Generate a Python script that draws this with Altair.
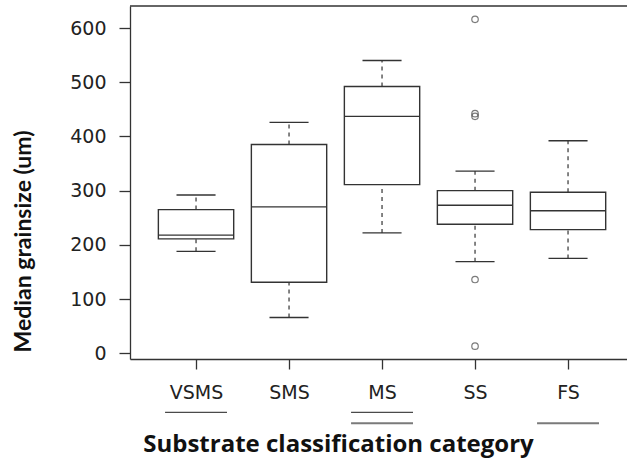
import json
import altair as alt
import pandas as pd

# ---- data ----
categories = ["VSMS", "SMS", "MS", "SS", "FS"]
positions = [1, 2, 3, 4, 5]
lower_whisker = [188, 66, 222, 169, 175]
q1 = [211, 131, 311, 238, 228]
median = [218, 270, 437, 273, 263]
q3 = [265, 385, 492, 300, 297]
upper_whisker = [292, 426, 540, 336, 392]

outlier_cat = ["SS", "SS", "SS", "SS", "SS"]
outlier_val = [616, 442, 437, 136, 13]

underline_cat = ["VSMS", "MS", "MS", "FS"]
underline_row = [1, 1, 2, 2]

y_ticks = [0, 100, 200, 300, 400, 500, 600]

pos_of = dict(zip(categories, positions))

box_df = pd.DataFrame({
    "cat": categories, "pos": positions, "lo": lower_whisker, "q1": q1,
    "med": median, "q3": q3, "hi": upper_whisker,
})
out_df = pd.DataFrame({"cat": outlier_cat, "pos": [pos_of[c] for c in outlier_cat],
                       "val": outlier_val})
ul_df = pd.DataFrame({"cat": underline_cat, "pos": [pos_of[c] for c in underline_cat],
                      "row": underline_row})

STROKE = "#333333"
W, H = 497, 353
X0 = 0.29
X1 = X0 + W / 93.0
x_scale = alt.Scale(domain=[X0, X1], nice=False, zero=False)
y_scale = alt.Scale(domain=[-10.6, 640.6], nice=False, zero=False)

label_expr = json.dumps(categories) + "[datum.value - 1]"

x_axis = alt.Axis(
    values=positions, labelExpr=label_expr, grid=False, tickSize=10,
    tickColor=STROKE, domainColor=STROKE, domainWidth=1.3, tickWidth=1.3,
    labelFont="DejaVu Sans", labelFontSize=19, labelColor="#222222",
    labelPadding=14, labelAngle=0,
    title="Substrate classification category", titleFont="Open Sans",
    titleFontSize=24, titleFontWeight="bold", titleColor="#111111",
    titleX=208, titleY=92, titleAlign="center", titleBaseline="alphabetic",
    titleAnchor="start",
)
y_axis = alt.Axis(
    values=y_ticks, grid=False, tickSize=11, tickColor=STROKE,
    domainColor=STROKE, domainWidth=1.3, tickWidth=1.3,
    labelFont="DejaVu Sans", labelFontSize=19, labelColor="#222222",
    labelPadding=13,
    title="Median grainsize (um)", titleFont="Lato", titleFontSize=23,
    titleFontWeight="bold", titleColor="#111111", titleAngle=-90,
    titleX=-100, titleY=235, titleAlign="center", titleBaseline="alphabetic",
    titleAnchor="start",
)


def X(field):
    return alt.X(field, type="quantitative", scale=x_scale, axis=x_axis)


def Y(field):
    return alt.Y(field, type="quantitative", scale=y_scale, axis=y_axis)


base = alt.Chart(box_df).transform_calculate(
    xl="datum.pos - 0.405", xr="datum.pos + 0.405",
    cl="datum.pos - 0.21", cr="datum.pos + 0.21",
)

boxes = base.mark_rect(fill="white", stroke=STROKE, strokeWidth=1.4).encode(
    x=X("xl"), x2="xr", y=Y("q1"), y2="q3")
medians = base.mark_rule(color=STROKE, strokeWidth=1.4).encode(
    x=X("xl"), x2="xr", y=Y("med"))
wh_up = base.mark_rule(color=STROKE, strokeWidth=1.2, strokeDash=[4, 4]).encode(
    x=X("pos"), y=Y("q3"), y2="hi")
wh_lo = base.mark_rule(color=STROKE, strokeWidth=1.2, strokeDash=[4, 4]).encode(
    x=X("pos"), y=Y("lo"), y2="q1")
cap_up = base.mark_rule(color=STROKE, strokeWidth=1.4).encode(
    x=X("cl"), x2="cr", y=Y("hi"))
cap_lo = base.mark_rule(color=STROKE, strokeWidth=1.4).encode(
    x=X("cl"), x2="cr", y=Y("lo"))

outliers = alt.Chart(out_df).mark_point(
    shape="circle", filled=False, size=42, color="#444444", strokeWidth=1.2
).encode(x=X("pos"), y=Y("val"))

ul_base = alt.Chart(ul_df).transform_calculate(
    ul="datum.pos - 0.333", ur="datum.pos + 0.333",
    uy="datum.row == 1 ? -109 : -129",
)
ul1 = ul_base.transform_filter("datum.row == 1").mark_rule(
    color="#4a4a4a", strokeWidth=1.3).encode(x=X("ul"), x2="ur", y=Y("uy"))
ul2 = ul_base.transform_filter("datum.row == 2").mark_rule(
    color="#7a7a7a", strokeWidth=2).encode(x=X("ul"), x2="ur", y=Y("uy"))

top_df = pd.DataFrame({"top": [640.6]})
top_line = alt.Chart(top_df).mark_rule(color=STROKE, strokeWidth=1.4).encode(
    y=Y("top"))

chart = alt.layer(
    boxes, wh_up, wh_lo, cap_up, cap_lo, medians, outliers, ul1, ul2, top_line
).properties(
    width=W, height=H,
    autosize=alt.AutoSizeParams(type="none"),
    padding={"left": 130, "top": 6, "right": 0, "bottom": 100},
    background="white",
).configure_view(stroke=None)

chart.save("out.html", embed_options={"renderer": "svg", "actions": False})
